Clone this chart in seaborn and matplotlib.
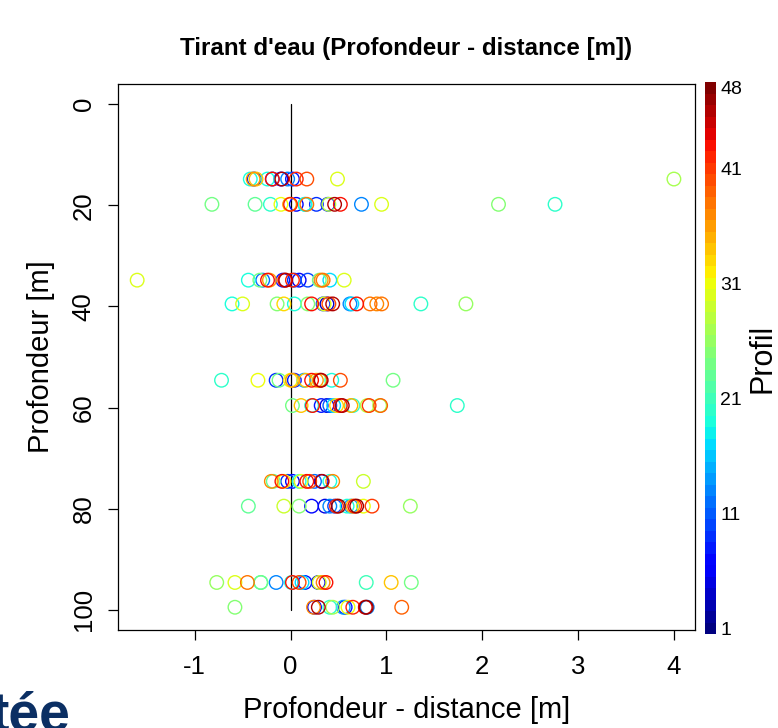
import numpy as np
import pandas as pd
import matplotlib
matplotlib.use("Agg")
import matplotlib.pyplot as plt
import matplotlib.colors as mcolors
import seaborn as sns

# ---- data ----
depth_15 = 14.8
dist_15 = [-0.42, -0.38, -0.39, -0.36, -0.24, -0.19, -0.19, -0.10, -0.09, -0.03, 0.02, 0.06, 0.17, 0.49, 4.0]
prof_15 = [19, 8, 36, 34, 19, 10, 43, 6, 46, 13, 8, 42, 40, 30, 27]

depth_20 = 19.8
dist_20 = [-0.82, -0.37, -0.21, -0.10, -0.01, 0.00, 0.06, 0.15, 0.15, 0.17, 0.27, 0.39, 0.40, 0.46, 0.52, 0.74, 0.95, 2.17, 2.76]
prof_20 = [24, 23, 20, 31, 36, 42, 7, 17, 19, 38, 9, 8, 28, 46, 43, 13, 30, 25, 20]

depth_35 = 34.8
dist_35 = [-1.60, -0.44, -0.32, -0.29, -0.24, -0.22, -0.08, -0.06, -0.05, 0.02, 0.04, 0.09, 0.18, 0.30, 0.32, 0.34, 0.41, 0.56]
prof_35 = [30, 19, 24, 12, 43, 36, 8, 43, 46, 42, 9, 6, 10, 24, 36, 38, 17, 30]

depth_40 = 39.5
dist_40 = [-0.61, -0.50, -0.14, -0.07, 0.04, 0.18, 0.22, 0.34, 0.35, 0.38, 0.44, 0.40, 0.62, 0.64, 0.69, 0.83, 0.90, 0.95, 1.36, 1.83]
prof_40 = [19, 30, 25, 33, 19, 25, 43, 9, 30, 4, 46, 40, 13, 17, 43, 38, 37, 38, 20, 26]

depth_55 = 54.6
dist_55 = [-0.72, -0.34, -0.15, -0.12, 0.00, 0.02, 0.04, 0.14, 0.16, 0.22, 0.27, 0.30, 0.31, 0.32, 0.43, 0.52, 1.07]
prof_55 = [20, 31, 9, 24, 32, 36, 8, 14, 34, 43, 36, 26, 42, 46, 19, 40, 24]

depth_60 = 59.6
dist_60 = [0.02, 0.11, 0.22, 0.23, 0.32, 0.38, 0.41, 0.45, 0.48, 0.52, 0.54, 0.65, 0.63, 0.80, 0.82, 0.93, 0.94, 1.74]
prof_60 = [24, 34, 19, 43, 8, 5, 11, 17, 33, 43, 46, 20, 35, 28, 41, 27, 39, 20]

depth_75 = 74.6
dist_75 = [-0.20, -0.18, -0.09, -0.07, -0.03, 0.02, 0.09, 0.11, 0.17, 0.20, 0.25, 0.32, 0.33, 0.41, 0.44, 0.76]
prof_75 = [37, 23, 43, 32, 9, 7, 19, 30, 43, 40, 12, 6, 46, 19, 37, 29]

depth_80 = 79.5
dist_80 = [-0.44, -0.07, 0.09, 0.22, 0.36, 0.41, 0.46, 0.48, 0.50, 0.59, 0.63, 0.65, 0.67, 0.69, 0.76, 0.85, 1.25]
prof_80 = [23, 29, 25, 7, 5, 13, 10, 42, 47, 19, 14, 35, 43, 47, 31, 41, 26]

depth_95 = 94.6
dist_95 = [-0.77, -0.58, -0.45, -0.31, -0.31, -0.15, 0.01, 0.02, 0.09, 0.12, 0.15, 0.29, 0.30, 0.34, 0.37, 0.79, 1.05, 1.26]
prof_95 = [26, 30, 38, 24, 20, 13, 19, 43, 40, 17, 8, 5, 30, 37, 43, 21, 34, 24]

depth_100 = 99.5
dist_100 = [-0.58, 0.24, 0.25, 0.29, 0.41, 0.44, 0.55, 0.57, 0.60, 0.65, 0.78, 0.79, 0.80, 1.16]
prof_100 = [25, 37, 6, 46, 20, 27, 14, 8, 31, 42, 44, 47, 13, 39]

x_ticks = [-1, 0, 1, 2, 3, 4]
y_ticks = [0, 20, 40, 60, 80, 100]
cbar_ticks = [1, 11, 21, 31, 41, 48]
n_profiles = 48

title = "Tirant d'eau (Profondeur - distance [m])"
xlabel = "Profondeur - distance [m]"
ylabel = "Profondeur [m]"
cbar_label = "Profil"

# ---- build table ----
rows = []
for d, xs, ps in [(depth_15, dist_15, prof_15), (depth_20, dist_20, prof_20),
                  (depth_35, dist_35, prof_35), (depth_40, dist_40, prof_40),
                  (depth_55, dist_55, prof_55), (depth_60, dist_60, prof_60),
                  (depth_75, dist_75, prof_75), (depth_80, dist_80, prof_80),
                  (depth_95, dist_95, prof_95), (depth_100, dist_100, prof_100)]:
    for xv, pv in zip(xs, ps):
        rows.append((xv, d, pv))
df = pd.DataFrame(rows, columns=["dist", "depth", "profil"]).sort_values("profil")

sns.set_style("white")
plt.rcParams["font.family"] = ["Liberation Sans", "DejaVu Sans"]
plt.rcParams["text.color"] = "black"
plt.rcParams["axes.labelcolor"] = "black"
plt.rcParams["xtick.color"] = "black"
plt.rcParams["ytick.color"] = "black"

W, H = 778, 728
fig = plt.figure(figsize=(W / 100, H / 100), dpi=100)
ax = fig.add_axes([118 / W, 1 - 630 / H, (695 - 118) / W, (630 - 84) / H])

cmap = plt.get_cmap("jet", n_profiles)
norm = mcolors.Normalize(vmin=0.5, vmax=n_profiles + 0.5)

sns.scatterplot(data=df, x="dist", y="depth", hue="profil", palette=cmap,
                hue_norm=norm, legend=False, ax=ax, marker="o", s=95,
                linewidth=1.0)
coll = ax.collections[0]
fc = coll.get_facecolors()
coll.set_edgecolors(fc)
coll.set_facecolors("none")

ax.plot([0, 0], [0, 100], color="black", lw=0.9, zorder=0)

ax.set_xlim(-1.80, 4.22)
ax.set_ylim(104, -4)
ax.set_xticks(x_ticks)
ax.set_xticklabels([str(t) for t in x_ticks])
ax.set_yticks(y_ticks)
ax.set_yticklabels([str(t) for t in y_ticks], rotation=90, va="center")
ax.tick_params(axis="both", direction="out", length=7, width=0.9, labelsize=18.5,
               color="black", labelcolor="black", bottom=True, left=True)
ax.tick_params(axis="x", pad=11)
ax.tick_params(axis="y", pad=9)
for sp in ax.spines.values():
    sp.set_visible(True)
    sp.set_color("black")
    sp.set_linewidth(0.9)

ax.set_xlabel(xlabel, fontsize=21, labelpad=12)
ax.set_ylabel(ylabel, fontsize=21, labelpad=12)
fig.text((118 + 695) / 2 / W, 1 - 48 / H, title, ha="center", va="center",
         fontsize=17.4, fontweight="bold")

cax = fig.add_axes([705 / W, 1 - 634 / H, 11 / W, (634 - 82) / H])
sm = plt.cm.ScalarMappable(norm=norm, cmap=cmap)
cb = fig.colorbar(sm, cax=cax, ticks=cbar_ticks)
cb.outline.set_visible(False)
cax.tick_params(length=0, labelsize=14, pad=3, colors="black")
cb.set_label(cbar_label, fontsize=22, labelpad=4)

fig.text(-0.012, -0.004, "tée", fontsize=40, fontweight="bold", color="#0b2f63",
         ha="left", va="baseline")

fig.savefig("out.png", dpi=100)
